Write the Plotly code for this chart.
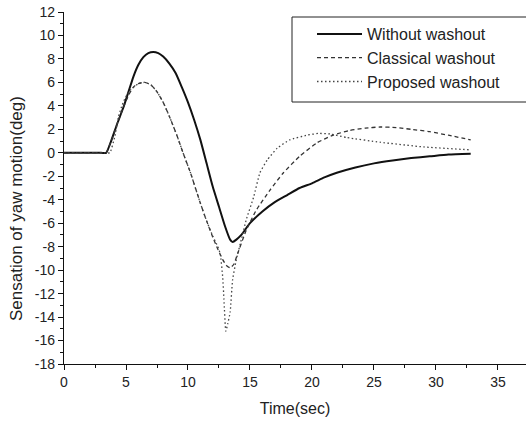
import plotly.graph_objects as go

# ---- data ----
t_without = [0, 3.0, 3.4, 3.8, 4.3, 4.8, 5.2, 5.6, 6.0, 6.4, 6.8, 7.2, 7.6, 8.0, 8.5, 9.0, 9.5,
             10.0, 10.5, 11.0, 11.5, 12.0, 12.5, 13.0, 13.4, 13.6, 13.9, 14.3, 15.0, 16.0,
             17.0, 18.0, 19.0, 20.0, 21.0, 22.0, 23.5, 25.0, 26.5, 28.0, 29.5, 31.0, 32.8]
v_without = [0, 0, 0, 1.0, 2.5, 3.9, 5.2, 6.5, 7.5, 8.15, 8.5, 8.6, 8.5, 8.2, 7.6, 6.8, 5.6,
             4.3, 2.8, 1.1, -0.9, -2.9, -4.6, -6.3, -7.4, -7.6, -7.4, -7.0, -6.0, -5.0,
             -4.2, -3.6, -3.0, -2.6, -2.1, -1.7, -1.25, -0.9, -0.65, -0.45, -0.3, -0.15, -0.08]

t_classical = [0, 3.0, 3.4, 3.8, 4.3, 4.8, 5.2, 5.6, 6.0, 6.5, 7.0, 7.5, 8.0, 8.5, 9.1, 9.6,
               10.2, 10.6, 11.0, 11.5, 12.0, 12.4, 12.8, 13.1, 13.4, 13.7, 14.0, 14.7,
               15.5, 16.6, 17.7, 19.0, 20.4, 21.7, 23.0, 24.3, 25.5, 26.8, 28.0, 29.5,
               31.0, 32.8]
v_classical = [0, 0, 0, 1.0, 2.5, 3.9, 4.9, 5.6, 5.9, 6.0, 5.8, 5.2, 4.3, 3.1, 1.5, 0.0,
               -1.7, -3.0, -4.3, -5.8, -7.2, -8.2, -9.1, -9.6, -9.8, -9.5, -8.6, -6.6,
               -4.9, -3.2, -1.7, -0.3, 0.85, 1.5, 1.9, 2.1, 2.2, 2.15, 2.0, 1.8,
               1.5, 1.1]

t_proposed = [0, 3.3, 3.7, 4.1, 4.4, 4.7, 5.0, 5.4, 6.0, 6.5, 7.0, 7.5, 8.0, 8.5, 9.1, 9.6,
              10.2, 10.6, 11.0, 11.5, 12.0, 12.4, 12.6, 12.8, 12.9, 13.05, 13.2, 13.4,
              13.6, 13.9, 14.3, 14.7, 15.3, 15.8, 16.4, 17.2, 18.2, 19.6, 20.5, 21.5,
              22.8, 25.5, 29.0, 32.8]
v_proposed = [0, 0, 0, 1.4, 3.1, 4.1, 4.8, 5.4, 5.9, 6.0, 5.8, 5.2, 4.3, 3.1, 1.5, 0.0,
              -1.7, -3.0, -4.3, -5.8, -7.1, -8.0, -8.6, -10.6, -12.5, -15.2, -14.6, -13.6,
              -10.8, -9.1, -7.4, -5.7, -3.75, -1.7, -0.6, 0.4, 1.1, 1.5, 1.65, 1.6,
              1.3, 0.9, 0.5, 0.25]

x_ticks = [0, 5, 10, 15, 20, 25, 30, 35]
y_ticks = [12, 10, 8, 6, 4, 2, 0, -2, -4, -6, -8, -10, -12, -14, -16, -18]
y_ticktext = [str(v) for v in y_ticks]

names = ["Without washout", "Classical washout", "Proposed washout"]

FONT = "Liberation Sans, Arial, sans-serif"

W, H = 526, 422
L, T, B = 64, 12, 58
PW, PH = W - L, H - T - B


def px(xw):
    return (xw - L) / PW


def py(yw):
    return (H - B - yw) / PH


fig = go.Figure()
fig.add_trace(go.Scatter(x=t_without, y=v_without, mode="lines", name=names[0],
                         line=dict(color="#111111", width=2, shape="spline", smoothing=0.5)))
fig.add_trace(go.Scatter(x=t_classical, y=v_classical, mode="lines", name=names[1],
                         line=dict(color="#333333", width=1.3, dash="4px,3px",
                                   shape="spline", smoothing=0.5)))
fig.add_trace(go.Scatter(x=t_proposed, y=v_proposed, mode="lines", name=names[2],
                         line=dict(color="#444444", width=1.3, dash="1.5px,2.5px",
                                   shape="spline", smoothing=0.4)))

axis_common = dict(showgrid=False, zeroline=False, showline=True, linecolor="#111111",
                   linewidth=1.3, ticks="outside", ticklen=5, tickwidth=1.3,
                   tickcolor="#111111", mirror=False, automargin=False,
                   ticklabeloverflow="allow",
                   tickfont=dict(family=FONT, size=14, color="#222222"))

fig.update_xaxes(range=[0, 37.26], tickvals=x_ticks, **axis_common,
                 minor=dict(dtick=2.5, tick0=0, ticklen=3, ticks="outside",
                            tickcolor="#111111", tickwidth=1.2),
                 title=dict(text="Time(sec)", font=dict(family=FONT, size=16, color="#222222"),
                            standoff=13))
fig.update_yaxes(range=[-18, 12], tickvals=y_ticks, ticktext=y_ticktext, **axis_common,
                 minor=dict(dtick=1, tick0=0, ticklen=3, ticks="outside",
                            tickcolor="#111111", tickwidth=1.2))

fig.add_annotation(text="Sensation of yaw motion(deg)", textangle=-90,
                   xref="paper", yref="paper", x=0, y=py(209),
                   xanchor="center", yanchor="middle", xshift=17 - L, showarrow=False,
                   font=dict(family=FONT, size=17, color="#222222"))

# legend frame
fig.add_shape(type="rect", xref="paper", yref="paper",
              x0=px(292), x1=1.02, y0=py(102), y1=py(17),
              line=dict(color="#222222", width=1), fillcolor="rgba(0,0,0,0)")

fig.update_layout(
    width=W, height=H,
    margin=dict(l=L, r=0, t=T, b=B, autoexpand=False),
    paper_bgcolor="white", plot_bgcolor="white",
    showlegend=True,
    legend=dict(x=px(312), y=py(17), xanchor="left", yanchor="top",
                bgcolor="rgba(0,0,0,0)", borderwidth=0, itemwidth=45,
                font=dict(family=FONT, size=16, color="#222222")),
)

fig.write_html("out.html", config={"displayModeBar": False},
               post_script="document.body.style.margin='0';document.body.style.overflow='hidden';")
